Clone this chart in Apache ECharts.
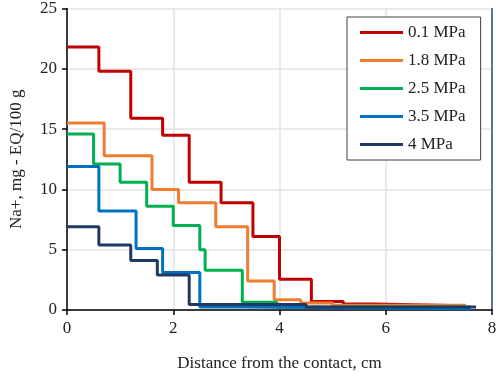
<!DOCTYPE html>
<html>
<head>
<meta charset="utf-8">
<script src="https://cdn.jsdelivr.net/npm/echarts@6/dist/echarts.min.js"></script>
<style>
  html, body { margin: 0; padding: 0; background: #fff; }
  #chart { width: 500px; height: 377px; }
</style>
</head>
<body>
<div id="chart"></div>
<script>
// pressure labels
const seriesNames = ['0.1 MPa', '1.8 MPa', '2.5 MPa', '3.5 MPa', '4 MPa']
const colors = ['#c00000', '#ed7d31', '#00b050', '#0070c0', '#1f3864']

// step start positions (cm) and Na+ level on each step
const xRed = [0, 0.6, 1.2, 1.8, 2.3, 2.9, 3.5, 4.0, 4.6, 5.2, 5.8, 7.5]
const yRed = [21.8, 19.8, 15.9, 14.5, 10.6, 8.9, 6.1, 2.55, 0.7, 0.5, 0.35, 0.35]

const xOrange = [0, 0.7, 1.6, 2.1, 2.8, 3.4, 3.9, 4.4, 5.0, 7.5]
const yOrange = [15.5, 12.8, 10.0, 8.9, 6.9, 2.4, 0.85, 0.58, 0.4, 0.4]

const xGreen = [0, 0.5, 1.0, 1.5, 2.0, 2.5, 2.6, 3.3, 3.95, 7.6]
const yGreen = [14.6, 12.1, 10.6, 8.6, 7.0, 5.0, 3.3, 0.65, 0.25, 0.25]

const xBlue = [0, 0.6, 1.3, 1.8, 2.5, 3.3, 7.6]
const yBlue = [11.9, 8.2, 5.1, 3.1, 0.25, 0.1, 0.1]

const xNavy = [0, 0.6, 1.2, 1.7, 2.3, 4.5, 7.7]
const yNavy = [6.9, 5.4, 4.1, 2.9, 0.45, 0.25, 0.25]

const xTicks = [0, 2, 4, 6, 8]
const yTicks = [0, 5, 10, 15, 20, 25]

const allX = [xRed, xOrange, xGreen, xBlue, xNavy]
const allY = [yRed, yOrange, yGreen, yBlue, yNavy]

const font = 'Liberation Serif'

const series = seriesNames.map((name, i) => ({
  name: name,
  type: 'line',
  step: 'end',
  symbol: 'none',
  lineStyle: { width: 3, color: colors[i] },
  itemStyle: { color: colors[i] },
  data: allX[i].map((x, k) => [x, allY[i][k]])
}))

const myChart = echarts.init(document.getElementById('chart'))
myChart.setOption({
  animation: false,
  grid: { left: 64, right: 8, top: 8, bottom: 65 },
  legend: {
    orient: 'vertical',
    left: 347,
    top: 17,
    padding: [7, 15, 7, 13],
    itemGap: 11,
    itemWidth: 43,
    itemHeight: 3,
    icon: 'rect',
    borderColor: '#404040',
    borderWidth: 1,
    backgroundColor: '#fff',
    textStyle: { fontFamily: font, fontSize: 17, color: '#222' },
    data: seriesNames
  },
  xAxis: {
    type: 'value',
    min: xTicks[0],
    max: xTicks[xTicks.length - 1],
    interval: 2,
    name: 'Distance from the contact, cm',
    nameLocation: 'middle',
    nameGap: 45,
    nameTextStyle: { fontFamily: font, fontSize: 17, color: '#222' },
    axisLine: { lineStyle: { color: '#000', width: 1.5 } },
    axisTick: { length: 5, lineStyle: { color: '#000', width: 1.5 } },
    axisLabel: { fontFamily: font, fontSize: 17, color: '#222', margin: 10 },
    splitLine: { show: true, lineStyle: { color: '#e3e3e3', width: 1.5 } }
  },
  yAxis: [{
    type: 'value',
    min: yTicks[0],
    max: yTicks[yTicks.length - 1],
    interval: 5,
    name: 'Na+, mg - EQ/100 g',
    nameLocation: 'middle',
    nameGap: 42,
    nameTextStyle: { fontFamily: font, fontSize: 17, color: '#222' },
    axisLine: { show: true, lineStyle: { color: '#000', width: 1.5 } },
    axisTick: { show: true, length: 5, lineStyle: { color: '#000', width: 1.5 } },
    axisLabel: { fontFamily: font, fontSize: 17, color: '#222', margin: 10 },
    splitLine: { show: true, lineStyle: { color: '#e3e3e3', width: 1.5 } }
  }, {
    // right border line
    type: 'value',
    position: 'right',
    min: yTicks[0],
    max: yTicks[yTicks.length - 1],
    axisLine: { show: true, lineStyle: { color: '#2f4a7a', width: 1.5 } },
    axisTick: { show: false },
    axisLabel: { show: false },
    splitLine: { show: false }
  }],
  series: series
})
</script>
</body>
</html>
